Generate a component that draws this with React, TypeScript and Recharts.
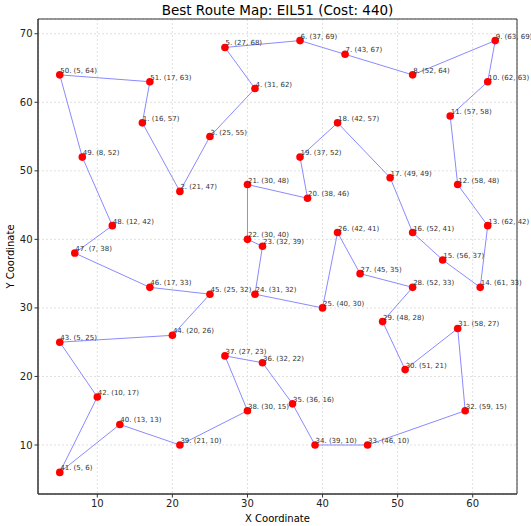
import React from "react";
import { ScatterChart, Scatter, XAxis, YAxis, CartesianGrid, ReferenceArea, LabelList } from "recharts";

const cityX = [16, 21, 25, 31, 27, 37, 43, 52, 63, 62, 57, 58, 62, 61, 56, 52, 49, 42, 37, 38, 30, 30, 32, 31, 40, 42, 45, 52, 48, 51, 58, 59, 46, 39, 36, 32, 27, 30, 21, 13, 5, 10, 5, 20, 25, 17, 7, 12, 8, 5, 17];
const cityY = [57, 47, 55, 62, 68, 69, 67, 64, 69, 63, 58, 48, 42, 33, 37, 41, 49, 57, 52, 46, 48, 40, 39, 32, 30, 41, 35, 33, 28, 21, 27, 15, 10, 10, 16, 22, 23, 15, 10, 13, 6, 17, 25, 26, 32, 33, 38, 42, 52, 64, 63];
const routeOrder = [1, 2, 3, 4, 5, 6, 7, 8, 9, 10, 11, 12, 13, 14, 15, 16, 17, 18, 19, 20, 21, 22, 23, 24, 25, 26, 27, 28, 29, 30, 31, 32, 33, 34, 35, 36, 37, 38, 39, 40, 41, 42, 43, 44, 45, 46, 47, 48, 49, 50, 51, 1];
const xTicks = [10, 20, 30, 40, 50, 60];
const yTicks = [10, 20, 30, 40, 50, 60, 70];

const cities = cityX.map((x, i) => ({ id: i + 1, x, y: cityY[i], label: `${i + 1}. (${x}, ${cityY[i]})` }));
const route = routeOrder.map((id) => cities[id - 1]);

const FONT = "DejaVu Sans, sans-serif";

function CityLabel(props: any) {
  const { x, y, width, height, value } = props;
  const cx = x + (width || 0) / 2;
  const cy = y + (height || 0) / 2;
  return (
    <text x={cx + 0.5} y={cy - 2} fontSize={7} fontFamily={FONT} fill="#333">
      {value}
    </text>
  );
}

export default function App() {
  return (
    <div style={{ position: "fixed", left: 0, top: 0, width: 531, height: 526, background: "#fff" }}>
      <div
        style={{
          position: "absolute",
          left: 38,
          width: 479,
          top: 2,
          textAlign: "center",
          fontFamily: FONT,
          fontSize: 13.5,
          color: "#000",
        }}
      >
        Best Route Map: EIL51 (Cost: 440)
      </div>
      <ScatterChart width={531} height={526} margin={{ top: 19, right: 14, bottom: 0, left: 0 }}>
        <CartesianGrid stroke="#e0e0e0" strokeDasharray="2 2" />
        <XAxis
          type="number"
          dataKey="x"
          domain={[2.1, 65.9]}
          ticks={xTicks}
          height={32}
          tick={{ fontSize: 10, fill: "#222", fontFamily: FONT }}
          tickSize={3.5}
          axisLine={{ stroke: "#333" }}
          tickLine={{ stroke: "#333" }}
          allowDataOverflow
          label={{ value: "X Coordinate", position: "insideBottom", offset: 4, style: { fontSize: 10, fontFamily: FONT, fill: "#000" } }}
        />
        <YAxis
          type="number"
          dataKey="y"
          domain={[2.85, 72.15]}
          ticks={yTicks}
          width={38}
          tick={{ fontSize: 10, fill: "#222", fontFamily: FONT }}
          tickSize={3.5}
          axisLine={{ stroke: "#333" }}
          tickLine={{ stroke: "#333" }}
          allowDataOverflow
          label={{ value: "Y Coordinate", angle: -90, position: "insideLeft", offset: 10, style: { textAnchor: "middle", fontSize: 10, fontFamily: FONT, fill: "#000" } }}
        />
        <ReferenceArea x1={2.1} x2={65.9} y1={2.85} y2={72.15} fill="none" stroke="#333" strokeWidth={1} />
        <Scatter
          data={route}
          line={{ stroke: "#8a8aff", strokeWidth: 1 }}
          shape={() => <g />}
          isAnimationActive={false}
        />
        <Scatter
          data={cities}
          fill="#ff0000"
          shape={(p: any) => <circle cx={p.cx} cy={p.cy} r={3.8} fill="#ff0000" />}
          isAnimationActive={false}
        >
          <LabelList dataKey="label" content={CityLabel} />
        </Scatter>
      </ScatterChart>
    </div>
  );
}
